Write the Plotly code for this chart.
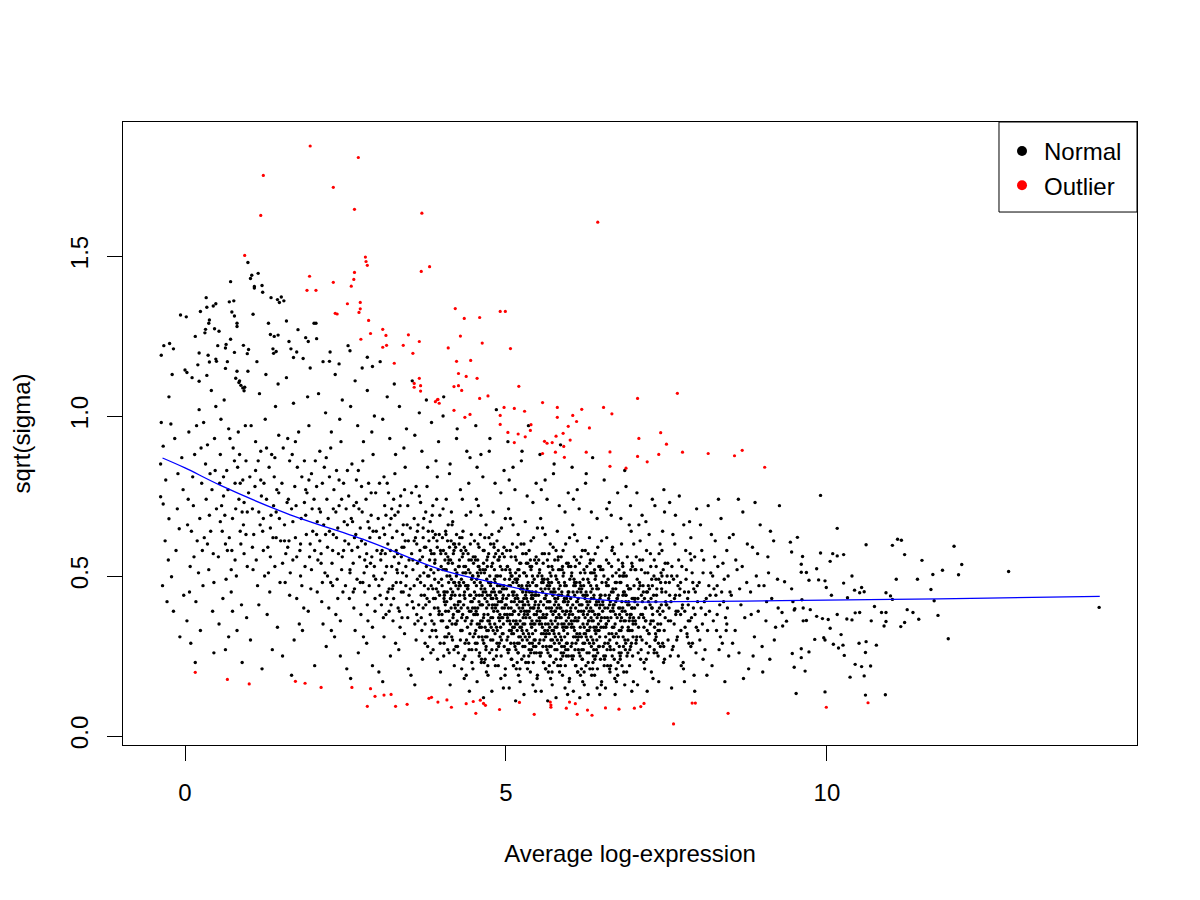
import plotly.graph_objects as go

# ---- data (Average log-expression vs sqrt(sigma)) ----

# upper-left sparse black points
normal_top = [(0.98,1.48),(1.14,1.446),(1.02,1.43),(0.71,1.42),(1.20,1.408),(1.08,1.405),(1.21,1.387),
    (1.34,1.37),(1.44,1.364),(1.50,1.372),(1.47,1.355),(0.33,1.37),(0.48,1.351),(0.44,1.344),(0.69,1.357),
    (0.24,1.327),(-0.07,1.316),(0.73,1.325),(0.77,1.3125),(1.06,1.318),(0.38,1.30),(0.37,1.29),(0.81,1.29),
    (1.58,1.297),(2.01,1.29),(0.32,1.271),(0.46,1.273),(0.53,1.265),(0.16,1.249),(1.33,1.255),(1.39,1.249),
    (1.45,1.253),(1.88,1.245),(1.92,1.233),(2.05,1.242),(-0.24,1.227),(-0.18,1.21),(0.64,1.224),(0.63,1.2125),
    (0.91,1.221),(0.99,1.208),(0.97,1.195),(0.77,1.199),(0.22,1.197),(1.38,1.196),(1.42,1.202),(1.62,1.233),
    (1.74,1.20),(1.69,1.183),(2.57,1.204),(2.25,1.171),(2.84,1.184),(2.92,1.155),(2.40,1.163),(0.0,1.144),
    (0.03,1.136),(0.38,1.169),(0.48,1.178),(0.49,1.171),(0.63,1.149),(0.34,1.127),(0.22,1.109),(0.81,1.14),
    (0.79,1.118),(0.84,1.105),(0.87,1.096),(0.90,1.088),(0.92,1.079)]

normal_left = [(-0.37,1.19),(-0.33,1.22),(-0.25,1.06),(-0.37,0.98),(-0.22,0.975),(-0.34,0.906),(-0.38,0.85),
    (-0.30,0.80),(-0.38,0.748),(-0.34,0.725),(-0.25,0.679),(-0.26,0.55),(-0.21,0.498),(-0.09,0.648),(-0.12,0.71),
    (-0.05,0.87),(-0.16,0.93),(-0.31,0.61),(-0.28,0.42),(-0.18,0.39),(-0.08,0.31),(-0.35,0.47),(-0.14,0.58),
    (-0.03,0.77),(-0.20,1.13),(-0.02,0.44),(-0.11,0.82),
    (0.02,1.31),(0.06,0.95),(0.11,1.12),(0.15,0.88),(0.04,0.66),(0.08,0.53),(0.13,0.72),(0.19,0.61),(0.22,1.02),
    (0.26,0.79),(0.31,1.26),(0.28,0.47),(0.35,0.91),(0.38,0.69),(0.41,1.08),(0.44,0.57),(0.47,0.83),(0.03,0.36),
    (0.09,0.29),(0.17,0.42),(0.21,0.51),(0.24,0.33),(0.29,0.98),(0.33,0.74),(0.36,1.19),(0.40,0.64),(0.43,0.39),
    (0.46,0.93),(0.49,0.71),(0.12,0.81),(0.18,0.97),(0.27,0.58),(0.32,0.85),(0.37,0.52),(0.42,0.77),(0.48,1.03),
    (0.05,0.74),(0.14,0.56),(0.23,0.68),(0.30,0.62),(0.39,0.82),(0.45,0.26),(0.20,1.16),(0.34,1.34),(0.07,0.45),
    (0.16,0.23),
    (0.51,1.22),(0.55,0.88),(0.58,0.64),(0.61,1.05),(0.64,0.49),(0.67,0.77),(0.70,0.93),(0.73,0.58),(0.76,1.36),
    (0.79,0.71),(0.82,0.84),(0.85,1.11),(0.88,0.41),(0.91,0.66),(0.94,0.97),(0.97,0.53),(0.53,0.35),(0.57,0.72),
    (0.60,0.81),(0.63,0.27),(0.66,1.17),(0.69,0.62),(0.72,0.45),(0.75,0.90),(0.78,0.55),(0.81,1.28),(0.84,0.74),
    (0.87,0.60),(0.90,0.80),(0.93,1.09),(0.96,0.37),(0.99,0.76),(0.52,0.56),(0.56,0.99),(0.59,0.43),(0.62,0.69),
    (0.65,0.83),(0.68,0.31),(0.71,1.24),(0.74,0.68),(0.77,0.86),(0.80,0.50),(0.83,0.95),(0.86,0.64),(0.89,0.23),
    (0.92,0.73),(0.95,0.86),(0.98,1.14),(0.54,0.79),(0.68,0.96),(0.74,0.39),(0.86,0.79),(0.92,0.57),(0.97,0.70),
    (0.63,0.60),(0.81,0.33),
    (1.01,0.81),(1.04,1.44),(1.07,0.63),(1.10,0.92),(1.13,0.47),(1.16,1.07),(1.19,0.75),(1.22,0.58),(1.25,0.99),
    (1.28,0.38),(1.31,0.84),(1.34,0.69),(1.37,1.21),(1.40,0.53),(1.43,0.77),(1.46,0.94),(1.49,0.61),(1.02,0.30),
    (1.05,0.71),(1.08,1.40),(1.11,0.55),(1.14,0.86),(1.17,0.66),(1.20,0.21),(1.23,0.79),(1.26,1.13),(1.29,0.59),
    (1.32,0.45),(1.35,0.88),(1.38,0.72),(1.41,1.03),(1.44,0.34),(1.47,0.68),(1.03,0.97),(1.06,0.52),(1.09,0.78),
    (1.12,1.17),(1.15,0.41),(1.18,0.89),(1.21,0.64),(1.24,0.50),(1.27,0.74),(1.30,1.29),(1.33,0.56),(1.36,0.27),
    (1.39,0.81),(1.42,0.62),(1.45,1.10),(1.48,0.48),(1.15,0.70),(1.27,0.90),(1.33,0.65),(1.40,0.87),(1.10,0.83),
    (1.46,0.76),
    (1.51,0.79),(1.54,1.36),(1.57,0.57),(1.60,0.93),(1.63,0.44),(1.66,0.71),(1.69,1.04),(1.72,0.62),(1.75,0.84),
    (1.78,0.35),(1.81,0.68),(1.84,1.18),(1.87,0.53),(1.90,0.76),(1.93,0.97),(1.96,0.46),(1.99,0.64),(1.52,0.25),
    (1.55,0.66),(1.58,1.12),(1.61,0.74),(1.64,0.51),(1.67,0.88),(1.70,0.30),(1.73,0.72),(1.76,1.27),(1.79,0.58),
    (1.82,0.81),(1.85,0.40),(1.88,0.69),(1.91,1.06),(1.94,0.56),(1.97,0.82),(1.53,0.90),(1.56,0.48),(1.59,0.73),
    (1.62,0.61),(1.65,1.21),(1.68,0.55),(1.71,0.78),(1.74,0.43),(1.77,0.95),(1.80,0.60),(1.83,0.33),(1.86,0.86),
    (1.89,0.63),(1.92,0.39),(1.95,1.15),(1.98,0.71),(1.60,0.59),(1.72,0.92),(1.80,0.50),(1.88,0.77),(1.95,0.60),
    (1.66,0.19)]

normal_mid = [(2.01,0.74),(2.04,1.29),(2.07,0.55),(2.10,0.89),(2.13,0.42),(2.16,0.66),(2.19,1.01),(2.22,0.59),
    (2.25,0.81),(2.28,0.33),(2.31,0.63),(2.34,1.13),(2.37,0.49),(2.40,0.72),(2.43,0.92),(2.46,0.45),(2.49,0.61),
    (2.02,0.22),(2.05,0.63),(2.08,1.07),(2.11,0.70),(2.14,0.48),(2.17,0.84),(2.20,0.28),(2.23,0.68),(2.26,1.20),
    (2.29,0.54),(2.32,0.77),(2.35,0.38),(2.38,0.65),(2.41,0.99),(2.44,0.52),(2.47,0.79),(2.03,0.86),(2.06,0.45),
    (2.09,0.71),(2.12,0.57),(2.15,1.17),(2.18,0.51),(2.21,0.74),(2.24,0.40),(2.27,0.90),(2.30,0.58),(2.33,0.31),
    (2.36,0.83),(2.39,0.57),(2.42,0.36),(2.45,1.05),(2.48,0.67),(2.10,0.61),(2.20,0.87),(2.30,0.47),(2.40,0.80),
    (2.45,0.56),(2.15,0.35),(2.25,0.64),(2.35,0.70),(2.05,0.78),(2.42,0.25),(2.28,0.95),
    (2.51,0.71),(2.54,1.22),(2.57,0.52),(2.60,0.85),(2.63,0.40),(2.66,0.63),(2.69,0.97),(2.72,0.56),(2.75,0.78),
    (2.78,0.31),(2.81,0.60),(2.84,1.08),(2.87,0.47),(2.90,0.69),(2.93,0.88),(2.96,0.43),(2.99,0.58),(2.52,0.21),
    (2.55,0.60),(2.58,1.03),(2.61,0.67),(2.64,0.46),(2.67,0.80),(2.70,0.26),(2.73,0.65),(2.76,1.15),(2.79,0.51),
    (2.82,0.74),(2.85,0.36),(2.88,0.62),(2.91,0.95),(2.94,0.50),(2.97,0.76),(2.53,0.83),(2.56,0.43),(2.59,0.68),
    (2.62,0.54),(2.65,1.11),(2.68,0.49),(2.71,0.71),(2.74,0.38),(2.77,0.86),(2.80,0.55),(2.83,0.29),(2.86,0.79),
    (2.89,0.54),(2.92,0.34),(2.95,1.00),(2.98,0.64),(2.60,0.58),(2.70,0.83),(2.80,0.45),(2.90,0.76),(2.95,0.53),
    (2.65,0.33),(2.75,0.61),(2.85,0.67),(2.55,0.75),(2.92,0.22),(2.78,0.92),(2.63,0.72),(2.73,0.48),(2.83,0.57),
    (2.93,0.64),(2.58,0.18),
    (3.01,0.68),(3.04,1.17),(3.07,0.49),(3.10,0.81),(3.13,0.38),(3.16,0.60),(3.19,0.93),(3.22,0.53),(3.25,0.74),
    (3.28,0.29),(3.31,0.57),(3.34,1.03),(3.37,0.45),(3.40,0.66),(3.43,0.84),(3.46,0.41),(3.49,0.55),(3.02,0.20),
    (3.05,0.57),(3.08,0.99),(3.11,0.63),(3.14,0.43),(3.17,0.76),(3.20,0.25),(3.23,0.62),(3.26,1.10),(3.29,0.48),
    (3.32,0.70),(3.35,0.34),(3.38,0.59),(3.41,0.90),(3.44,0.47),(3.47,0.72),(3.03,0.79),(3.06,0.41),(3.09,0.65),
    (3.12,0.51),(3.15,1.06),(3.18,0.46),(3.21,0.68),(3.24,0.36),(3.27,0.82),(3.30,0.52),(3.33,0.27),(3.36,0.75),
    (3.39,0.51),(3.42,0.32),(3.45,0.96),(3.48,0.61),(3.05,0.55),(3.15,0.79),(3.25,0.43),(3.35,0.72),(3.45,0.50),
    (3.10,0.31),(3.20,0.58),(3.30,0.64),(3.40,0.45),(3.48,0.21),(3.28,0.88),(3.13,0.69),(3.23,0.46),(3.33,0.54),
    (3.43,0.61),(3.08,0.17),(3.18,0.39),(3.38,0.37),(3.46,0.66),(3.12,0.57),(3.22,0.71),(3.32,0.40),(3.42,0.77),
    (3.04,0.44),(3.26,0.56),(3.36,0.48),
    (3.51,0.65),(3.54,1.11),(3.57,0.47),(3.60,0.78),(3.63,0.36),(3.66,0.58),(3.69,0.89),(3.72,0.51),(3.75,0.70),
    (3.78,0.28),(3.81,0.55),(3.84,0.98),(3.87,0.43),(3.90,0.63),(3.93,0.81),(3.96,0.39),(3.99,0.53),(3.52,0.19),
    (3.55,0.55),(3.58,0.94),(3.61,0.60),(3.64,0.41),(3.67,0.73),(3.70,0.24),(3.73,0.59),(3.76,1.05),(3.79,0.46),
    (3.82,0.67),(3.85,0.33),(3.88,0.57),(3.91,0.86),(3.94,0.45),(3.97,0.69),(3.53,0.76),(3.56,0.40),(3.59,0.62),
    (3.62,0.49),(3.65,1.01),(3.68,0.44),(3.71,0.65),(3.74,0.35),(3.77,0.78),(3.80,0.50),(3.83,0.26),(3.86,0.72),
    (3.89,0.49),(3.92,0.31),(3.95,0.92),(3.98,0.58),(3.55,0.52),(3.65,0.75),(3.75,0.41),(3.85,0.69),(3.95,0.48),
    (3.60,0.30),(3.70,0.56),(3.80,0.61),(3.90,0.43),(3.98,0.20),(3.78,0.84),(3.63,0.66),(3.73,0.44),(3.83,0.52),
    (3.93,0.59),(3.58,0.16),(3.68,0.37),(3.88,0.35),(3.96,0.63),(3.62,0.54),(3.72,0.68),(3.82,0.38),(3.92,0.74),
    (3.54,0.42),(3.76,0.53),(3.86,0.46),(3.66,0.50),(3.84,0.57),(3.94,0.40),(3.57,0.61),(3.69,0.33),(3.79,0.64),
    (3.89,0.54),(3.99,0.36),(3.74,0.29),(3.87,0.62)]

# extra points in the busier part of the left half
normal_left_fill = [(0.10,0.64),(0.25,0.90),(0.45,0.48),(0.60,0.75),(0.72,0.52),(0.85,0.88),(0.95,0.63),
    (1.05,0.59),(1.18,0.80),(1.30,0.51),(1.42,0.70),(1.55,0.61),(1.63,0.86),(1.74,0.56),(1.86,0.73),(1.97,0.52),
    (2.06,0.67),(2.14,0.79),(2.22,0.50),(2.31,0.71),(2.38,0.43),(2.47,0.58),(2.53,0.66),(2.62,0.45),(2.69,0.59),
    (2.76,0.70),(2.84,0.41),(2.91,0.56),(2.97,0.49),(3.03,0.62),(3.09,0.37),(3.14,0.53),(3.19,0.66),(3.24,0.47),
    (3.29,0.58),(3.34,0.39),(3.39,0.63),(3.44,0.53),(3.49,0.44),(3.53,0.57),(3.58,0.35),(3.62,0.64),(3.67,0.48),
    (3.71,0.40),(3.75,0.59),(3.78,0.50),(3.02,0.47),(3.11,0.72),(3.21,0.41),(3.31,0.51),(3.41,0.59),(3.51,0.46),
    (3.61,0.38),(3.71,0.62),(3.77,0.43),(2.57,0.51),(2.67,0.73),(2.77,0.48),(2.87,0.65),(2.96,0.39),(2.12,0.54),
    (2.27,0.48),(2.36,0.62),(2.44,0.74),(1.22,0.68),(1.37,0.62),(1.52,0.54),(1.68,0.67),(1.82,0.47),(1.93,0.80),
    (0.35,0.60),(0.55,0.67),(0.66,0.58),(0.78,0.79),(0.89,0.70),(3.16,0.45),(3.27,0.69),(3.37,0.56),(3.47,0.37),
    (3.57,0.68),(3.66,0.55),(3.73,0.47),(3.07,0.58),(2.83,0.53),(2.64,0.62),(2.50,0.47),(2.19,0.63),(2.02,0.58)]

normal_core_a = [(4.01,0.62),(4.03,1.06),(4.05,0.45),(4.07,0.74),(4.09,0.34),(4.11,0.55),(4.13,0.85),(4.15,0.49),
    (4.17,0.67),(4.19,0.27),(4.21,0.52),(4.23,0.93),(4.25,0.41),(4.27,0.60),(4.29,0.77),(4.31,0.37),(4.33,0.51),
    (4.35,0.18),(4.37,0.53),(4.39,0.89),(4.41,0.57),(4.43,0.39),(4.45,0.70),(4.47,0.23),(4.49,0.56),(4.02,1.00),
    (4.04,0.44),(4.06,0.64),(4.08,0.31),(4.10,0.54),(4.12,0.82),(4.14,0.43),(4.16,0.66),(4.18,0.38),(4.20,0.60),
    (4.22,0.47),(4.24,0.96),(4.26,0.42),(4.28,0.62),(4.30,0.33),(4.32,0.74),(4.34,0.48),(4.36,0.25),(4.38,0.69),
    (4.40,0.46),(4.42,0.29),(4.44,0.87),(4.46,0.55),(4.48,0.50),(4.02,0.71),(4.06,0.39),(4.10,0.66),(4.14,0.46),
    (4.18,0.57),(4.22,0.28),(4.26,0.53),(4.30,0.58),(4.34,0.41),(4.38,0.19),(4.42,0.79),(4.46,0.63),(4.04,0.42),
    (4.08,0.50),(4.12,0.59),(4.16,0.35),(4.20,0.48),(4.24,0.36),(4.28,0.44),(4.32,0.56),(4.36,0.43),(4.40,0.34),
    (4.44,0.51),(4.48,0.40),(4.05,0.55),(4.11,0.32),(4.17,0.45),(4.23,0.63),(4.29,0.30),(4.35,0.59),(4.41,0.47),
    (4.47,0.36),(4.03,0.25),(4.09,0.61),(4.15,0.70),(4.21,0.40),(4.27,0.48),(4.33,0.64),(4.39,0.37),(4.45,0.44),
    (4.13,0.16),(4.31,0.21),(4.43,0.14),(4.07,0.52),(4.19,0.58),(4.37,0.47),(4.49,0.31),
    (4.51,0.61),(4.52,0.38),(4.53,0.97),(4.54,0.47),(4.55,0.29),(4.56,0.55),(4.57,0.72),(4.58,0.42),(4.59,0.34),
    (4.60,0.63),(4.61,0.51),(4.62,0.24),(4.63,0.44),(4.64,0.81),(4.65,0.37),(4.66,0.58),(4.67,0.46),(4.68,0.31),
    (4.69,0.66),(4.70,0.40),(4.71,0.53),(4.72,0.19),(4.73,0.48),(4.74,0.89),(4.75,0.35),(4.76,0.60),(4.77,0.43),
    (4.78,0.27),(4.79,0.54),(4.80,0.70),(4.81,0.39),(4.82,0.45),(4.83,0.32),(4.84,0.57),(4.85,1.02),(4.86,0.41),
    (4.87,0.50),(4.88,0.22),(4.89,0.64),(4.90,0.36),(4.91,0.47),(4.92,0.76),(4.93,0.30),(4.94,0.52),(4.95,0.43),
    (4.96,0.15),(4.97,0.59),(4.98,0.38),(4.99,0.68),(4.51,0.45),(4.53,0.33),(4.55,0.84),(4.57,0.50),(4.59,0.26),
    (4.61,0.69),(4.63,0.36),(4.65,0.54),(4.67,0.62),(4.69,0.28),(4.71,0.44),(4.73,0.57),(4.75,0.93),(4.77,0.34),
    (4.79,0.41),(4.81,0.60),(4.83,0.48),(4.85,0.25),(4.87,0.39),(4.89,0.55),(4.91,0.31),(4.93,0.65),(4.95,0.37),
    (4.97,0.46),(4.99,0.21),(4.52,0.56),(4.56,0.40),(4.60,0.48),(4.64,0.30),(4.68,0.52),(4.72,0.38),(4.76,0.47),
    (4.80,0.33),(4.84,0.44),(4.88,0.58),(4.92,0.42),(4.96,0.35),(4.54,0.74),(4.58,0.59),(4.62,0.41),(4.66,0.23),
    (4.70,0.49),(4.74,0.36),(4.78,0.63),(4.82,0.52),(4.86,0.29),(4.90,0.56),(4.94,0.40),(4.98,0.49),(4.55,0.17),
    (4.65,0.12),(4.78,0.14),(4.92,0.18),(4.61,0.88),(4.83,0.79),(4.97,0.83),(4.70,0.33),(4.86,0.61),(4.58,0.53),
    (5.01,0.58),(5.02,0.36),(5.03,0.92),(5.04,0.44),(5.05,0.27),(5.06,0.52),(5.07,0.68),(5.08,0.40),(5.09,0.32),
    (5.10,0.60),(5.11,0.48),(5.12,0.22),(5.13,0.42),(5.14,0.77),(5.15,0.35),(5.16,0.55),(5.17,0.44),(5.18,0.29),
    (5.19,0.63),(5.20,0.38),(5.21,0.50),(5.22,0.17),(5.23,0.46),(5.24,0.86),(5.25,0.33),(5.26,0.57),(5.27,0.41),
    (5.28,0.25),(5.29,0.51),(5.30,0.67),(5.31,0.37),(5.32,0.43),(5.33,0.30),(5.34,0.54),(5.35,0.97),(5.36,0.39),
    (5.37,0.47),(5.38,0.20),(5.39,0.61),(5.40,0.34),(5.41,0.45),(5.42,0.73),(5.43,0.28),(5.44,0.49),(5.45,0.41),
    (5.46,0.14),(5.47,0.56),(5.48,0.36),(5.49,0.65),(5.01,0.43),(5.03,0.31),(5.05,0.80),(5.07,0.47),(5.09,0.24),
    (5.11,0.66),(5.13,0.34),(5.15,0.51),(5.17,0.59),(5.19,0.26),(5.21,0.42),(5.23,0.54),(5.25,0.89),(5.27,0.32),
    (5.29,0.39),(5.31,0.57),(5.33,0.46),(5.35,0.23),(5.37,0.37),(5.39,0.52),(5.41,0.29),(5.43,0.62),(5.45,0.35),
    (5.47,0.44),(5.49,0.19),(5.02,0.53),(5.06,0.38),(5.10,0.45),(5.14,0.28),(5.18,0.49),(5.22,0.36),(5.26,0.45),
    (5.30,0.31),(5.34,0.42),(5.38,0.55),(5.42,0.40),(5.46,0.33),(5.04,0.71),(5.08,0.56),(5.12,0.39),(5.16,0.21),
    (5.20,0.47),(5.24,0.34),(5.28,0.60),(5.32,0.50),(5.36,0.27),(5.40,0.53),(5.44,0.38),(5.48,0.47),(5.05,0.15),
    (5.15,0.11),(5.28,0.13),(5.42,0.16),(5.11,0.84),(5.33,0.75),(5.47,0.79),(5.20,0.31),(5.36,0.58),(5.08,0.50),
    (5.26,0.40),(5.44,0.26),(5.18,0.35),(5.40,0.44)]

normal_core_b = [(5.51,0.55),(5.52,0.35),(5.53,0.88),(5.54,0.42),(5.55,0.26),(5.56,0.50),(5.57,0.65),(5.58,0.38),
    (5.59,0.30),(5.60,0.57),(5.61,0.46),(5.62,0.21),(5.63,0.40),(5.64,0.74),(5.65,0.33),(5.66,0.53),(5.67,0.42),
    (5.68,0.28),(5.69,0.60),(5.70,0.36),(5.71,0.48),(5.72,0.16),(5.73,0.44),(5.74,0.82),(5.75,0.32),(5.76,0.55),
    (5.77,0.39),(5.78,0.24),(5.79,0.49),(5.80,0.64),(5.81,0.35),(5.82,0.41),(5.83,0.29),(5.84,0.52),(5.85,0.91),
    (5.86,0.37),(5.87,0.45),(5.88,0.19),(5.89,0.58),(5.90,0.33),(5.91,0.43),(5.92,0.70),(5.93,0.27),(5.94,0.47),
    (5.95,0.39),(5.96,0.13),(5.97,0.54),(5.98,0.35),(5.99,0.62),(5.51,0.41),(5.53,0.30),(5.55,0.77),(5.57,0.45),
    (5.59,0.23),(5.61,0.63),(5.63,0.32),(5.65,0.49),(5.67,0.57),(5.69,0.25),(5.71,0.40),(5.73,0.52),(5.75,0.85),
    (5.77,0.31),(5.79,0.37),(5.81,0.55),(5.83,0.44),(5.85,0.22),(5.87,0.35),(5.89,0.50),(5.91,0.28),(5.93,0.60),
    (5.95,0.34),(5.97,0.42),(5.99,0.18),(5.52,0.51),(5.56,0.37),(5.60,0.43),(5.64,0.27),(5.68,0.47),(5.72,0.35),
    (5.76,0.43),(5.80,0.30),(5.84,0.40),(5.88,0.53),(5.92,0.38),(5.96,0.32),(5.54,0.68),(5.58,0.54),(5.62,0.37),
    (5.66,0.20),(5.70,0.45),(5.74,0.33),(5.78,0.58),(5.82,0.48),(5.86,0.26),(5.90,0.51),(5.94,0.36),(5.98,0.45),
    (5.55,0.14),(5.65,0.11),(5.78,0.12),(5.92,0.15),(5.61,0.80),(5.83,0.72),(5.97,0.76),(5.70,0.30),(5.86,0.56),
    (5.58,0.48),(5.76,0.39),(5.94,0.25),(5.68,0.34),(5.90,0.42),
    (6.01,0.53),(6.02,0.34),(6.03,0.84),(6.04,0.41),(6.05,0.25),(6.06,0.49),(6.07,0.63),(6.08,0.37),(6.09,0.29),
    (6.10,0.55),(6.11,0.45),(6.12,0.20),(6.13,0.39),(6.14,0.71),(6.15,0.32),(6.16,0.51),(6.17,0.41),(6.18,0.27),
    (6.19,0.58),(6.20,0.35),(6.21,0.47),(6.22,0.16),(6.23,0.43),(6.24,0.79),(6.25,0.31),(6.26,0.53),(6.27,0.38),
    (6.28,0.23),(6.29,0.48),(6.30,0.62),(6.31,0.34),(6.32,0.40),(6.33,0.28),(6.34,0.51),(6.35,0.87),(6.36,0.36),
    (6.37,0.44),(6.38,0.19),(6.39,0.57),(6.40,0.32),(6.41,0.42),(6.42,0.68),(6.43,0.26),(6.44,0.46),(6.45,0.38),
    (6.46,0.13),(6.47,0.53),(6.48,0.34),(6.49,0.61),(6.01,0.40),(6.03,0.29),(6.05,0.74),(6.07,0.44),(6.09,0.22),
    (6.11,0.61),(6.13,0.31),(6.15,0.48),(6.17,0.56),(6.19,0.24),(6.21,0.39),(6.23,0.51),(6.25,0.82),(6.27,0.30),
    (6.29,0.36),(6.31,0.54),(6.33,0.43),(6.35,0.21),(6.37,0.34),(6.39,0.49),(6.41,0.27),(6.43,0.59),(6.45,0.33),
    (6.47,0.41),(6.49,0.17),(6.02,0.50),(6.06,0.36),(6.10,0.42),(6.14,0.26),(6.18,0.46),(6.22,0.34),(6.26,0.42),
    (6.30,0.29),(6.34,0.39),(6.38,0.52),(6.42,0.37),(6.46,0.31),(6.04,0.66),(6.08,0.53),(6.12,0.36),(6.16,0.19),
    (6.20,0.44),(6.24,0.32),(6.28,0.57),(6.32,0.47),(6.36,0.25),(6.40,0.50),(6.44,0.35),(6.48,0.44),(6.05,0.14),
    (6.15,0.12),(6.28,0.13),(6.42,0.15),(6.11,0.77),(6.33,0.70),(6.20,0.29),(6.36,0.55),(6.08,0.47),
    (6.51,0.52),(6.52,0.34),(6.53,0.80),(6.54,0.40),(6.55,0.25),(6.56,0.48),(6.57,0.62),(6.58,0.37),(6.59,0.29),
    (6.60,0.54),(6.61,0.44),(6.62,0.20),(6.63,0.39),(6.64,0.69),(6.65,0.32),(6.66,0.50),(6.67,0.41),(6.68,0.27),
    (6.69,0.57),(6.70,0.35),(6.71,0.46),(6.72,0.17),(6.73,0.43),(6.74,0.76),(6.75,0.31),(6.76,0.52),(6.77,0.38),
    (6.78,0.24),(6.79,0.48),(6.80,0.60),(6.81,0.34),(6.82,0.40),(6.83,0.28),(6.84,0.51),(6.85,0.83),(6.86,0.36),
    (6.87,0.44),(6.88,0.20),(6.89,0.56),(6.90,0.33),(6.91,0.42),(6.92,0.66),(6.93,0.27),(6.94,0.46),(6.95,0.38),
    (6.96,0.14),(6.97,0.53),(6.98,0.35),(6.99,0.60),(6.51,0.41),(6.54,0.29),(6.57,0.71),(6.60,0.43),(6.63,0.22),
    (6.66,0.59),(6.69,0.31),(6.72,0.48),(6.75,0.55),(6.78,0.25),(6.81,0.39),(6.84,0.50),(6.87,0.78),(6.90,0.30),
    (6.93,0.37),(6.96,0.54),(6.99,0.43),(6.53,0.22),(6.56,0.35),(6.59,0.49),(6.62,0.28),(6.65,0.58),(6.68,0.34),
    (6.71,0.42),(6.74,0.19),(6.77,0.50),(6.80,0.37),(6.83,0.45),(6.86,0.27),(6.89,0.47),(6.92,0.36),(6.95,0.64),
    (6.98,0.31),(6.55,0.15),(6.70,0.13),(6.85,0.16),(6.61,0.73),(6.79,0.68),(6.94,0.72),(6.67,0.45),(6.82,0.53),
    (6.97,0.40)]

# the solid-looking band in the middle of the cloud
normal_dense = [(3.805,0.42),(3.815,0.31),(3.825,0.58),(3.835,0.47),(3.845,0.36),(3.855,0.64),(3.865,0.27),
    (3.875,0.51),(3.885,0.40),(3.895,0.55),(3.905,0.33),(3.915,0.46),(3.925,0.61),(3.935,0.24),(3.945,0.52),
    (3.955,0.38),(3.965,0.44),(3.975,0.29),(3.985,0.57),(3.995,0.49),
    (4.005,0.47),(4.015,0.36),(4.025,0.58),(4.035,0.29),(4.045,0.52),(4.055,0.41),(4.065,0.63),(4.075,0.34),
    (4.085,0.45),(4.095,0.56),(4.105,0.39),(4.115,0.26),(4.125,0.50),(4.135,0.43),(4.145,0.61),(4.155,0.31),
    (4.165,0.54),(4.175,0.37),(4.185,0.48),(4.195,0.22),(4.205,0.44),(4.215,0.59),(4.225,0.35),(4.235,0.51),
    (4.245,0.28),(4.255,0.46),(4.265,0.39),(4.275,0.55),(4.285,0.42),(4.295,0.33),(4.305,0.49),(4.315,0.62),
    (4.325,0.38),(4.335,0.24),(4.345,0.53),(4.355,0.45),(4.365,0.36),(4.375,0.58),(4.385,0.30),(4.395,0.47),
    (4.405,0.40),(4.415,0.52),(4.425,0.27),(4.435,0.44),(4.445,0.60),(4.455,0.35),(4.465,0.49),(4.475,0.42),
    (4.485,0.21),(4.495,0.54),(4.145,0.40),(4.275,0.47),(4.365,0.51),(4.455,0.39),(4.035,0.43),
    (4.505,0.43),(4.515,0.32),(4.525,0.55),(4.535,0.27),(4.545,0.49),(4.555,0.38),(4.565,0.60),(4.575,0.31),
    (4.585,0.44),(4.595,0.52),(4.605,0.36),(4.615,0.23),(4.625,0.47),(4.635,0.41),(4.645,0.58),(4.655,0.29),
    (4.665,0.51),(4.675,0.34),(4.685,0.45),(4.695,0.20),(4.705,0.42),(4.715,0.56),(4.725,0.33),(4.735,0.48),
    (4.745,0.26),(4.755,0.44),(4.765,0.37),(4.775,0.53),(4.785,0.40),(4.795,0.30),(4.805,0.46),(4.815,0.59),
    (4.825,0.35),(4.835,0.22),(4.845,0.50),(4.855,0.43),(4.865,0.33),(4.875,0.55),(4.885,0.28),(4.895,0.45),
    (4.905,0.38),(4.915,0.50),(4.925,0.25),(4.935,0.42),(4.945,0.57),(4.955,0.32),(4.965,0.47),(4.975,0.40),
    (4.985,0.19),(4.995,0.52),(4.535,0.39),(4.585,0.35),(4.645,0.45),(4.705,0.31),(4.765,0.48),(4.825,0.41),
    (4.885,0.37),(4.945,0.46),(4.555,0.51),(4.675,0.24),(4.735,0.62),(4.795,0.43),(4.855,0.27),(4.915,0.34),
    (4.975,0.56),
    (5.005,0.41),(5.015,0.30),(5.025,0.53),(5.035,0.26),(5.045,0.47),(5.055,0.36),(5.065,0.58),(5.075,0.29),
    (5.085,0.42),(5.095,0.50),(5.105,0.34),(5.115,0.22),(5.125,0.45),(5.135,0.39),(5.145,0.56),(5.155,0.27),
    (5.165,0.49),(5.175,0.33),(5.185,0.43),(5.195,0.19),(5.205,0.40),(5.215,0.54),(5.225,0.31),(5.235,0.46),
    (5.245,0.24),(5.255,0.42),(5.265,0.35),(5.275,0.51),(5.285,0.38),(5.295,0.28),(5.305,0.44),(5.315,0.57),
    (5.325,0.33),(5.335,0.21),(5.345,0.48),(5.355,0.41),(5.365,0.31),(5.375,0.53),(5.385,0.26),(5.395,0.43),
    (5.405,0.36),(5.415,0.48),(5.425,0.23),(5.435,0.40),(5.445,0.55),(5.455,0.30),(5.465,0.45),(5.475,0.38),
    (5.485,0.18),(5.495,0.50),(5.025,0.37),(5.085,0.33),(5.145,0.43),(5.205,0.29),(5.265,0.46),(5.325,0.39),
    (5.385,0.35),(5.445,0.44),(5.055,0.49),(5.175,0.23),(5.235,0.60),(5.295,0.41),(5.355,0.25),(5.415,0.32),
    (5.475,0.54),(5.115,0.36),(5.185,0.52),(5.255,0.30),(5.315,0.45),(5.465,0.28),
    (5.505,0.40),(5.515,0.29),(5.525,0.52),(5.535,0.25),(5.545,0.46),(5.555,0.35),(5.565,0.57),(5.575,0.28),
    (5.585,0.41),(5.595,0.49),(5.605,0.33),(5.615,0.21),(5.625,0.44),(5.635,0.38),(5.645,0.55),(5.655,0.26),
    (5.665,0.48),(5.675,0.32),(5.685,0.42),(5.695,0.18),(5.705,0.39),(5.715,0.53),(5.725,0.30),(5.735,0.45),
    (5.745,0.23),(5.755,0.41),(5.765,0.34),(5.775,0.50),(5.785,0.37),(5.795,0.27),(5.805,0.43),(5.815,0.56),
    (5.825,0.32),(5.835,0.20),(5.845,0.47),(5.855,0.40),(5.865,0.30),(5.875,0.52),(5.885,0.25),(5.895,0.42),
    (5.905,0.35),(5.915,0.47),(5.925,0.22),(5.935,0.39),(5.945,0.54),(5.955,0.29),(5.965,0.44),(5.975,0.37),
    (5.985,0.17),(5.995,0.49),(5.525,0.36),(5.585,0.32),(5.645,0.42),(5.705,0.28),(5.765,0.45),(5.825,0.38),
    (5.885,0.34),(5.945,0.43),(5.555,0.48),(5.675,0.22),(5.735,0.59),(5.795,0.40),(5.855,0.24),(5.915,0.31),
    (5.975,0.53),(5.615,0.35),(5.685,0.51),(5.755,0.29),(5.815,0.44),(5.965,0.27),
    (6.005,0.39),(6.015,0.28),(6.025,0.51),(6.035,0.24),(6.045,0.45),(6.055,0.34),(6.065,0.56),(6.075,0.27),
    (6.085,0.40),(6.095,0.48),(6.105,0.32),(6.115,0.20),(6.125,0.43),(6.135,0.37),(6.145,0.54),(6.155,0.25),
    (6.165,0.47),(6.175,0.31),(6.185,0.41),(6.195,0.17),(6.205,0.38),(6.215,0.52),(6.225,0.29),(6.235,0.44),
    (6.245,0.22),(6.255,0.40),(6.265,0.33),(6.275,0.49),(6.285,0.36),(6.295,0.26),(6.305,0.42),(6.315,0.55),
    (6.325,0.31),(6.335,0.19),(6.345,0.46),(6.355,0.39),(6.365,0.29),(6.375,0.51),(6.385,0.24),(6.395,0.41),
    (6.405,0.34),(6.415,0.46),(6.425,0.21),(6.435,0.38),(6.445,0.53),(6.455,0.28),(6.465,0.43),(6.475,0.36),
    (6.485,0.16),(6.495,0.48),(6.025,0.35),(6.085,0.31),(6.145,0.41),(6.205,0.27),(6.265,0.44),(6.325,0.37),
    (6.385,0.33),(6.445,0.42),(6.055,0.47),(6.175,0.21),(6.235,0.58),(6.295,0.39),(6.355,0.23),(6.415,0.30),
    (6.475,0.52),
    (6.505,0.39),(6.515,0.28),(6.525,0.50),(6.535,0.24),(6.545,0.44),(6.555,0.34),(6.565,0.55),(6.575,0.27),
    (6.585,0.40),(6.595,0.47),(6.605,0.32),(6.615,0.21),(6.625,0.42),(6.635,0.37),(6.645,0.53),(6.655,0.25),
    (6.665,0.46),(6.675,0.31),(6.685,0.41),(6.695,0.18),(6.705,0.38),(6.715,0.51),(6.725,0.29),(6.735,0.43),
    (6.745,0.23),(6.755,0.40),(6.765,0.33),(6.775,0.48),(6.785,0.36),(6.795,0.26),(6.805,0.42),(6.815,0.54),
    (6.825,0.31),(6.835,0.20),(6.845,0.45),(6.855,0.39),(6.865,0.29),(6.875,0.50),(6.885,0.25),(6.895,0.41),
    (6.905,0.34),(6.915,0.46),(6.925,0.22),(6.935,0.38),(6.945,0.52),(6.955,0.29),(6.965,0.43),(6.975,0.36),
    (6.985,0.17),(6.995,0.47),(6.565,0.35),(6.665,0.40),(6.765,0.28),(6.865,0.44),(6.965,0.33),
    (7.005,0.40),(7.025,0.29),(7.045,0.49),(7.065,0.34),(7.085,0.55),(7.105,0.27),(7.125,0.42),(7.145,0.37),
    (7.165,0.51),(7.185,0.24),(7.205,0.45),(7.225,0.32),(7.245,0.41),(7.265,0.20),(7.285,0.38),(7.305,0.50),
    (7.325,0.30),(7.345,0.44),(7.365,0.35),(7.385,0.57),(7.405,0.28),(7.425,0.46),(7.445,0.39),(7.465,0.33),
    (7.485,0.48),(7.015,0.36),(7.055,0.43),(7.095,0.31),(7.135,0.47),(7.175,0.40),(7.215,0.26),(7.255,0.53),
    (7.295,0.36),(7.335,0.42),(7.375,0.29),(7.415,0.51),(7.455,0.23),(7.495,0.41),(7.235,0.46),(7.315,0.34),
    (7.505,0.41),(7.525,0.30),(7.545,0.48),(7.565,0.36),(7.585,0.53),(7.605,0.28),(7.625,0.43),(7.645,0.38),
    (7.665,0.50),(7.685,0.25),(7.705,0.44),(7.725,0.33),(7.745,0.40),(7.765,0.21),(7.785,0.39),(7.805,0.49),
    (7.825,0.31),(7.845,0.45),(7.865,0.36),(7.885,0.55),(7.905,0.29),(7.925,0.46),(7.945,0.38),(7.965,0.34),
    (7.985,0.42),
    (8.04,0.40),(8.07,0.51),(8.14,0.33),(8.18,0.44),(8.25,0.56),(8.29,0.38),(8.32,0.27),(8.39,0.42),(8.46,0.50),
    (8.07,0.24),(8.29,0.47),(8.44,0.35)]

# second pass over the darkest part of the band
normal_dense2 = [(4.0025,0.38),(4.0175,0.52),(4.0325,0.45),(4.0475,0.31),(4.0625,0.57),(4.0775,0.42),
    (4.0925,0.27),(4.1075,0.48),(4.1225,0.36),(4.1375,0.55),(4.1525,0.44),(4.1675,0.30),(4.1825,0.60),(4.1975,0.41),
    (4.2125,0.35),(4.2275,0.50),(4.2425,0.39),(4.2575,0.26),(4.2725,0.53),(4.2875,0.47),(4.3025,0.40),(4.3175,0.33),
    (4.3325,0.57),(4.3475,0.44),(4.3625,0.29),(4.3775,0.51),(4.3925,0.37),(4.4075,0.46),(4.4225,0.55),(4.4375,0.32),
    (4.4525,0.42),(4.4675,0.27),(4.4825,0.50),(4.4975,0.38),
    (4.5075,0.48),(4.5225,0.29),(4.5375,0.44),(4.5525,0.35),(4.5675,0.53),(4.5825,0.25),(4.5975,0.41),(4.6125,0.46),
    (4.6275,0.31),(4.6425,0.52),(4.6575,0.38),(4.6725,0.43),(4.6875,0.27),(4.7025,0.55),(4.7175,0.36),(4.7325,0.41),
    (4.7475,0.50),(4.7625,0.30),(4.7775,0.45),(4.7925,0.37),(4.8075,0.24),(4.8225,0.49),(4.8375,0.40),(4.8525,0.34),
    (4.8675,0.47),(4.8825,0.42),(4.8975,0.29),(4.9125,0.53),(4.9275,0.37),(4.9425,0.32),(4.9575,0.44),(4.9725,0.28),
    (4.9875,0.41),(4.5175,0.40),(4.6175,0.34),(4.7175,0.22),(4.8175,0.56),(4.9175,0.45),
    (5.0075,0.46),(5.0225,0.27),(5.0375,0.40),(5.0525,0.33),(5.0675,0.51),(5.0825,0.24),(5.0975,0.38),(5.1125,0.44),
    (5.1275,0.29),(5.1425,0.49),(5.1575,0.36),(5.1725,0.41),(5.1875,0.26),(5.2025,0.52),(5.2175,0.34),(5.2325,0.39),
    (5.2475,0.47),(5.2625,0.28),(5.2775,0.43),(5.2925,0.35),(5.3075,0.23),(5.3225,0.47),(5.3375,0.38),(5.3525,0.32),
    (5.3675,0.45),(5.3825,0.40),(5.3975,0.27),(5.4125,0.50),(5.4275,0.35),(5.4375,0.30),(5.4575,0.42),(5.4725,0.26),
    (5.4875,0.39),(5.0175,0.38),(5.1175,0.32),(5.2175,0.21),(5.3175,0.54),(5.4175,0.43),(5.0675,0.35),(5.1675,0.48),
    (5.2675,0.37),(5.3675,0.29),(5.4675,0.47),
    (5.5075,0.44),(5.5225,0.26),(5.5375,0.39),(5.5525,0.32),(5.5675,0.49),(5.5825,0.23),(5.5975,0.37),(5.6125,0.43),
    (5.6275,0.28),(5.6425,0.47),(5.6575,0.35),(5.6725,0.40),(5.6875,0.25),(5.7025,0.50),(5.7175,0.33),(5.7325,0.38),
    (5.7475,0.46),(5.7625,0.27),(5.7775,0.42),(5.7925,0.34),(5.8075,0.22),(5.8225,0.46),(5.8375,0.37),(5.8525,0.31),
    (5.8675,0.44),(5.8825,0.39),(5.8975,0.26),(5.9125,0.48),(5.9275,0.34),(5.9425,0.29),(5.9575,0.41),(5.9725,0.25),
    (5.9875,0.38),(5.5175,0.37),(5.6175,0.31),(5.7175,0.20),(5.8175,0.52),(5.9175,0.42),(5.5675,0.34),(5.6675,0.46),
    (5.7675,0.36),(5.8675,0.28),(5.9675,0.45),
    (6.0075,0.43),(6.0225,0.25),(6.0375,0.38),(6.0525,0.31),(6.0675,0.48),(6.0825,0.22),(6.0975,0.36),(6.1125,0.42),
    (6.1275,0.27),(6.1425,0.46),(6.1575,0.34),(6.1725,0.39),(6.1875,0.24),(6.2025,0.49),(6.2175,0.32),(6.2325,0.37),
    (6.2475,0.45),(6.2625,0.26),(6.2775,0.41),(6.2925,0.33),(6.3075,0.21),(6.3225,0.45),(6.3375,0.36),(6.3525,0.30),
    (6.3675,0.43),(6.3825,0.38),(6.3975,0.25),(6.4125,0.47),(6.4275,0.33),(6.4425,0.28),(6.4575,0.40),(6.4725,0.24),
    (6.4875,0.37),(6.0175,0.36),(6.1175,0.30),(6.2175,0.20),(6.3175,0.51),(6.4175,0.41),(6.0675,0.33),(6.1675,0.45),
    (6.2675,0.35),(6.3675,0.27),(6.4675,0.44),
    (6.5075,0.42),(6.5225,0.25),(6.5375,0.37),(6.5525,0.31),(6.5675,0.47),(6.5825,0.22),(6.5975,0.36),(6.6125,0.41),
    (6.6275,0.27),(6.6425,0.45),(6.6575,0.34),(6.6725,0.39),(6.6875,0.24),(6.7025,0.48),(6.7175,0.32),(6.7325,0.37),
    (6.7475,0.44),(6.7625,0.26),(6.7775,0.40),(6.7925,0.33),(6.8075,0.22),(6.8225,0.44),(6.8375,0.36),(6.8525,0.30),
    (6.8675,0.42),(6.8825,0.38),(6.8975,0.26),(6.9125,0.46),(6.9275,0.33),(6.9425,0.28),(6.9575,0.40),(6.9725,0.25),
    (6.9875,0.37),(6.6175,0.30),(6.7175,0.21),(6.8175,0.50),(6.9175,0.41),
    (7.0075,0.42),(7.0375,0.31),(7.0675,0.46),(7.0975,0.24),(7.1275,0.38),(7.1575,0.43),(7.1875,0.29),(7.2175,0.47),
    (7.2475,0.35),(7.2775,0.40),(7.3075,0.26),(7.3375,0.49),(7.3675,0.33),(7.3975,0.38),(7.4275,0.45),(7.4575,0.28),
    (7.4875,0.42),(7.0225,0.52),(7.1725,0.36),(7.3225,0.30)]

normal_right = [(7.01,0.52),(7.02,0.35),(7.04,0.76),(7.05,0.41),(7.06,0.26),(7.08,0.48),(7.09,0.61),(7.10,0.38),
    (7.12,0.30),(7.13,0.55),(7.14,0.45),(7.16,0.21),(7.17,0.40),(7.18,0.67),(7.20,0.33),(7.21,0.51),(7.22,0.42),
    (7.24,0.28),(7.25,0.57),(7.26,0.36),(7.28,0.47),(7.29,0.18),(7.30,0.44),(7.32,0.72),(7.33,0.32),(7.34,0.53),
    (7.36,0.39),(7.37,0.25),(7.38,0.49),(7.40,0.60),(7.41,0.35),(7.42,0.41),(7.44,0.29),(7.45,0.52),(7.46,0.77),
    (7.48,0.37),(7.49,0.45),(7.01,0.43),(7.03,0.30),(7.07,0.66),(7.11,0.44),(7.15,0.23),(7.19,0.58),(7.23,0.32),
    (7.27,0.49),(7.31,0.55),(7.35,0.26),(7.39,0.40),(7.43,0.50),(7.47,0.70),(7.03,0.56),(7.07,0.37),(7.11,0.52),
    (7.15,0.34),(7.19,0.45),(7.23,0.63),(7.27,0.40),(7.31,0.27),(7.35,0.46),(7.39,0.33),(7.43,0.58),(7.47,0.24),
    (7.05,0.16),(7.20,0.14),(7.38,0.17),(7.12,0.69),(7.28,0.74),(7.44,0.64),(7.09,0.47),(7.26,0.43),(7.41,0.48),
    (7.18,0.36),(7.34,0.31),(7.48,0.54),
    (7.51,0.50),(7.53,0.36),(7.55,0.73),(7.57,0.42),(7.59,0.27),(7.61,0.49),(7.63,0.60),(7.65,0.39),(7.67,0.31),
    (7.69,0.55),(7.71,0.46),(7.73,0.22),(7.75,0.41),(7.77,0.66),(7.79,0.34),(7.81,0.52),(7.83,0.43),(7.85,0.29),
    (7.87,0.57),(7.89,0.37),(7.91,0.48),(7.93,0.19),(7.95,0.45),(7.97,0.71),(7.99,0.33),(7.52,0.54),(7.54,0.40),
    (7.56,0.25),(7.58,0.50),(7.60,0.63),(7.62,0.35),(7.64,0.44),(7.66,0.30),(7.68,0.47),(7.70,0.75),(7.72,0.38),
    (7.74,0.53),(7.76,0.23),(7.78,0.45),(7.80,0.58),(7.82,0.32),(7.84,0.41),(7.86,0.67),(7.88,0.28),(7.90,0.51),
    (7.92,0.40),(7.94,0.56),(7.96,0.26),(7.98,0.47),(7.58,0.15),(7.78,0.17),(7.94,0.14),(7.64,0.69),(7.88,0.62),
    (7.72,0.48),(7.84,0.36),(7.55,0.44),(7.68,0.39),
    (8.01,0.48),(8.03,0.66),(8.06,0.35),(8.08,0.55),(8.10,0.27),(8.12,0.43),(8.15,0.72),(8.17,0.39),(8.19,0.51),
    (8.21,0.22),(8.24,0.46),(8.26,0.61),(8.28,0.33),(8.30,0.53),(8.33,0.41),(8.35,0.68),(8.37,0.29),(8.40,0.49),
    (8.42,0.37),(8.44,0.58),(8.47,0.25),(8.49,0.45),(8.02,0.30),(8.05,0.58),(8.09,0.42),(8.13,0.19),(8.16,0.47),
    (8.20,0.63),(8.23,0.36),(8.27,0.44),(8.31,0.74),(8.34,0.31),(8.38,0.54),(8.41,0.17),(8.45,0.40),(8.48,0.62),
    (8.22,0.50),(8.36,0.45),(8.11,0.38),(8.43,0.33),
    (8.51,0.44),(8.54,0.63),(8.57,0.33),(8.60,0.52),(8.63,0.26),(8.66,0.41),(8.69,0.70),(8.72,0.37),(8.75,0.48),
    (8.78,0.21),(8.81,0.45),(8.84,0.59),(8.87,0.31),(8.90,0.50),(8.93,0.39),(8.96,0.66),(8.99,0.28),(9.02,0.47),
    (9.05,0.36),(9.08,0.56),(9.11,0.24),(9.14,0.43),(9.17,0.61),(9.20,0.34),(9.23,0.49),(9.26,0.72),(8.53,0.29),
    (8.58,0.55),(8.64,0.46),(8.70,0.18),(8.76,0.60),(8.82,0.38),(8.88,0.73),(8.94,0.47),(9.00,0.20),(9.06,0.42),
    (9.12,0.64),(9.18,0.30),(9.24,0.40),(8.62,0.74),(8.85,0.25),(9.09,0.51),(8.68,0.53),(8.92,0.57)]

normal_tail = [(9.90,0.752),(10.16,0.649),(9.54,0.621),(9.43,0.606),(10.61,0.598),(11.02,0.596),(11.10,0.615),
    (11.16,0.612),(11.98,0.593),(9.45,0.575),(9.62,0.561),(9.90,0.572),(10.09,0.570),(10.16,0.563),(10.26,0.567),
    (11.21,0.567),(10.05,0.546),(11.48,0.549),(12.10,0.536),(9.60,0.537),(9.84,0.523),(9.60,0.512),(9.68,0.511),
    (11.80,0.518),(12.05,0.504),(11.65,0.505),(12.83,0.514),(10.39,0.500),(9.72,0.487),(9.87,0.488),(9.97,0.485),
    (11.08,0.490),(11.41,0.490),(9.34,0.482),(10.26,0.478),(10.54,0.464),(10.43,0.456),(10.51,0.448),(10.58,0.451),
    (9.99,0.464),(9.45,0.460),(11.62,0.458),(10.92,0.448),(10.99,0.438),(10.07,0.440),(10.32,0.432),(11.67,0.423),
    (14.24,0.402),(10.74,0.405),(11.25,0.395),(11.34,0.386),(11.73,0.377),(11.43,0.365),(10.92,0.386),(10.85,0.386),
    (10.92,0.358),(10.89,0.344),(11.21,0.355),(11.15,0.342),(10.69,0.360),(10.44,0.385),(10.51,0.386),(10.31,0.366),
    (10.39,0.363),(10.61,0.295),(10.77,0.284),(10.50,0.290),(11.89,0.304),(10.27,0.252),(10.60,0.261),(10.44,0.224),
    (10.54,0.217),(10.68,0.219),(10.36,0.184),(10.58,0.188),(10.60,0.128),(10.91,0.129),(9.97,0.138),(9.52,0.133),
    (9.49,0.215),(9.66,0.203),(9.46,0.258),(9.60,0.245),(9.81,0.302),(9.95,0.307),(9.97,0.300),(10.10,0.287),
    (10.18,0.275),(10.25,0.284),(10.05,0.337),(10.22,0.317),(9.93,0.367),(10.02,0.364),(10.16,0.380),(9.63,0.400),
    (9.74,0.395),(9.84,0.374),(9.63,0.360),(9.68,0.361),(9.50,0.398),(9.49,0.394),(9.30,0.386),(9.37,0.359),
    (9.31,0.344),(9.60,0.273),(9.72,0.263),(9.47,0.420),(9.61,0.426),(11.02,0.427)]

# red points flagged as outliers
outliers = [(1.95,1.844),(2.70,1.808),(1.22,1.752),(2.31,1.715),(2.64,1.646),(1.18,1.627),(3.69,1.634),
    (6.43,1.606),(0.93,1.502),(2.81,1.497),(2.82,1.483),(2.84,1.471),(1.94,1.437),(3.68,1.452),(3.81,1.467),
    (1.90,1.393),(2.04,1.393),(2.31,1.418),(2.64,1.449),(2.63,1.427),(2.59,1.406),(2.53,1.351),(2.73,1.355),
    (2.73,1.335),(2.71,1.324),(2.34,1.321),(2.37,1.319),(2.86,1.299),(2.89,1.258),(2.74,1.240),(3.08,1.271),
    (3.13,1.252),(3.08,1.215),(3.14,1.221),(3.40,1.221),(3.48,1.254),(3.65,1.233),(3.55,1.196),(3.26,1.165),
    (4.21,1.336),(4.10,1.213),(4.23,1.171),(3.65,1.118),(3.57,1.102),(3.57,1.090),(3.67,1.095),(3.67,1.078),
    (4.26,1.133),(4.19,1.092),(4.26,1.095),(3.94,1.052),(4.35,1.305),(4.59,1.308),(4.91,1.327),(4.99,1.327),
    (4.29,1.250),(4.63,1.228),(5.07,1.211),(4.45,1.174),(4.38,1.124),(4.55,1.118),(4.31,1.080),(5.20,1.093),
    (4.59,1.055),(4.72,1.063),(3.90,1.045),(3.93,1.051),(3.96,1.040),(5.57,1.042),(5.80,1.027),(4.97,1.027),
    (5.13,1.024),(5.29,1.015),(4.19,1.018),(4.44,1.005),(4.36,0.996),(4.91,1.002),(5.80,0.996),(6.04,1.002),
    (6.18,1.021),(6.52,1.027),(6.65,1.007),(7.05,1.055),(7.67,1.071),(6.10,0.983),(6.30,0.963),(5.97,0.968),
    (5.39,0.973),(5.38,0.955),(4.91,0.974),(5.03,0.949),(5.19,0.944),(5.30,0.935),(5.89,0.946),(5.78,0.937),
    (6.00,0.925),(5.60,0.921),(5.72,0.917),(5.64,0.915),(5.13,0.917),(5.90,0.905),(5.57,0.883),(5.77,0.887),
    (5.91,0.871),(6.25,0.887),(6.62,0.888),(6.62,0.843),(6.87,0.837),(7.05,0.874),(7.20,0.857),(7.07,0.930),
    (7.41,0.948),(7.50,0.912),(7.38,0.880),(7.75,0.887),(8.15,0.883),(8.56,0.876),(8.68,0.893),(9.03,0.840),
    (0.16,0.199),(0.66,0.177),(1.00,0.163),(1.72,0.171),(1.87,0.165),(2.12,0.152),(2.60,0.152),(2.89,0.148),
    (2.96,0.124),(3.10,0.128),(3.21,0.130),(2.84,0.093),(3.28,0.093),(3.46,0.099),(3.80,0.118),(3.84,0.121),
    (3.94,0.106),(4.08,0.113),(4.15,0.090),(4.38,0.101),(4.49,0.108),(4.60,0.112),(4.65,0.102),(4.68,0.096),
    (4.53,0.071),(4.90,0.083),(5.21,0.105),(5.44,0.068),(5.69,0.106),(5.70,0.097),(5.70,0.090),(5.99,0.106),
    (5.94,0.087),(6.08,0.101),(6.11,0.068),(6.27,0.081),(6.34,0.065),(6.55,0.088),(6.76,0.084),(7.00,0.087),
    (7.10,0.092),(7.15,0.102),(7.61,0.038),(7.90,0.103),(7.95,0.103),(8.46,0.071),(9.99,0.090),(10.64,0.104)]

# smooth trend line drawn through the cloud (blue)
trend_x = [-0.35, 0.0, 0.545, 1.58, 2.88, 3.97, 4.75, 5.53, 6.88, 7.61, 9.27, 11.0, 12.5, 14.25]
trend_y = [0.869, 0.838, 0.784, 0.696, 0.607, 0.521, 0.482, 0.448, 0.420, 0.420, 0.423, 0.427, 0.431, 0.4365]

x_ticks = [0, 5, 10]
y_ticks = [0.0, 0.5, 1.0, 1.5]
y_tick_labels = ["0.0", "0.5", "1.0", "1.5"]

normal = (normal_top + normal_left + normal_left_fill + normal_mid + normal_core_a + normal_core_b
          + normal_dense + normal_dense2 + normal_right + normal_tail)
nx, ny = zip(*normal)
ox, oy = zip(*outliers)

FONT = "Liberation Sans"

fig = go.Figure()

fig.add_trace(go.Scatter(x=nx, y=ny, mode="markers", showlegend=False, hoverinfo="skip",
                         marker=dict(color="black", size=3.4, line=dict(width=0))))
fig.add_trace(go.Scatter(x=ox, y=oy, mode="markers", showlegend=False, hoverinfo="skip",
                         marker=dict(color="#ff0000", size=3.2, line=dict(width=0))))
fig.add_trace(go.Scatter(x=trend_x, y=trend_y, mode="lines", showlegend=False,
                         line=dict(color="#0000ff", width=1.3, shape="spline", smoothing=1.0)))

# legend-only entries with larger symbols
fig.add_trace(go.Scatter(x=[None], y=[None], mode="markers", name="Normal",
                         marker=dict(color="black", size=10)))
fig.add_trace(go.Scatter(x=[None], y=[None], mode="markers", name="Outlier",
                         marker=dict(color="#ff0000", size=10)))

# legend frame drawn as a box in the top-right corner of the plot
fig.add_shape(type="rect", xref="paper", yref="paper", x0=0.8639, x1=1.0, y0=0.8555, y1=1.0,
              line=dict(color="black", width=1), fillcolor="white", layer="above")

# page body adds an 8px offset, so margins are trimmed to land the box at the same place
fig.update_layout(
    width=1200, height=900,
    paper_bgcolor="white", plot_bgcolor="white",
    margin=dict(l=115, r=71, t=114, b=163),
    font=dict(family=FONT, size=24, color="black"),
    legend=dict(x=0.8649, y=0.9888, xanchor="left", yanchor="top",
                borderwidth=0, bgcolor="rgba(0,0,0,0)",
                font=dict(size=24), tracegroupgap=0, itemwidth=34),
)

fig.update_xaxes(
    range=[-0.966, 14.83], tickvals=x_ticks, ticks="outside", ticklen=15, tickcolor="black",
    ticklabelstandoff=11, automargin=False,
    showline=True, mirror=True, linecolor="black", linewidth=1, showgrid=False, zeroline=False,
    title=dict(text="Average log-expression", standoff=40, font=dict(size=24)),
)
fig.update_yaxes(
    range=[-0.028, 1.919], tickvals=y_ticks, ticktext=y_tick_labels, tickangle=-90,
    ticks="outside", ticklen=15, tickcolor="black", ticklabelstandoff=9, automargin=False,
    showline=True, mirror=True, linecolor="black", linewidth=1, showgrid=False, zeroline=False,
    title=dict(text="sqrt(sigma)", standoff=33, font=dict(size=24)),
)

fig.write_html("out.html")
